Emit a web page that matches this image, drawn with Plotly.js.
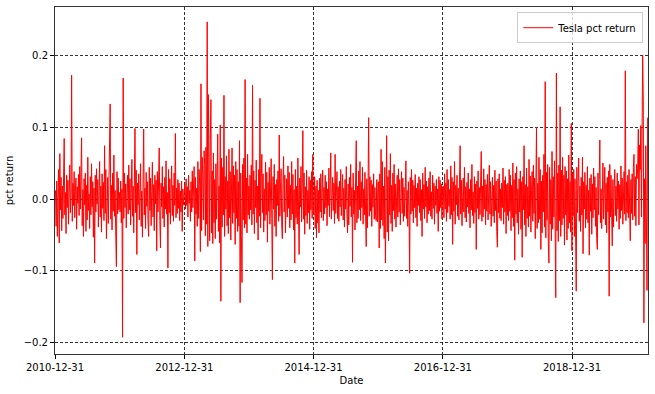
<!DOCTYPE html>
<html><head><meta charset="utf-8">
<script src="https://cdn.plot.ly/plotly-3.0.1.min.js"></script>
<style>html,body{margin:0;padding:0;background:#fff}#chart{width:655px;height:394px}</style>
</head><body><div id="chart"></div>
<script>
// Tesla daily pct return, values in units of 0.001 (per-mille), read/
const seriesName = 'Tesla pct return';
const r2011 = [12,-38,25,-52,8,41,-61,63,-15,30,-44,18,-27,55,84,-22,9,-48,33,-12,26,-35,14,47,-19,5,172,-31,22,-9,38,-26,11,29,-42,17,-6,34,-23,45,-14,21,85,-37,13,-52,28,-8,36,-45,19,-29,58,-16,7,-41,31,-22,49,-11,24,-53,15,-89,33,-18,42,-7,27,-39,11,52,-25,18,-46,35,-13,23,-30,74,-20,41,-55,16,30,-34,8,47,132,-28,19,-43,36,-17,61,-24,12,-50,-94,38,-21,29,-15,9];
const r2012 = [-18,25,-33,14,-192,168,-27,36,-12,21,-40,9,33,-21,47,-15,28,-36,12,55,-24,18,-47,31,98,-19,40,-77,22,-8,35,-29,16,49,-38,11,-53,27,97,-22,15,-41,37,-10,24,-33,-52,44,-16,29,-37,12,51,-25,20,-44,33,-7,26,-72,38,-18,14,71,-30,-68,22,-11,45,-27,17,-39,30,-14,53,-21,9,-96,41,-19,28,-35,12,46,-23,19,-31,36,-9,91,-26,15,-20,27,-13,22,-30,11,-18,25,-45,14,-8,19];
const r2013 = [21,-14,28,-9,17,-25,33,-6,12,-31,24,-18,39,-12,8,45,-86,30,-21,15,-38,52,-27,41,19,-73,160,-44,58,33,-29,67,48,-51,72,-35,246,-66,145,55,-58,81,138,-47,39,-62,64,-33,27,-55,49,-28,36,90,-45,18,-61,103,-142,57,-39,44,-22,144,-52,31,-14,60,-37,25,-48,69,-26,38,-57,17,71,-34,46,-19,33,-63,52,-27,41,-45,24,-38,81,-144,36,-51,-116,48,-29,57,-40,166,-35,29,-47,62,-22,18];
const r2014 = [-28,33,-15,47,-36,158,-21,39,-48,26,-12,54,-33,18,-57,41,-24,140,-40,29,62,-19,35,-46,14,-30,51,-22,37,-60,23,-17,44,-35,9,56,-27,-112,31,-14,48,-38,20,-52,27,-9,39,-31,89,-24,15,42,-36,-55,22,59,-18,33,-47,11,28,-25,46,-13,37,-40,19,-29,52,-21,34,-43,13,-89,41,-26,18,-35,57,-16,-77,29,-11,45,-32,21,95,-28,36,-49,17,-23,40,-34,12,-19,31,-42,26,-15,38,-27,62,-20];
const r2015 = [-22,31,-41,18,-54,26,-33,12,-47,29,-18,35,-26,9,40,-30,16,-21,33,-12,24,-37,14,-9,43,-25,19,64,-28,11,30,-16,22,-34,62,-20,13,38,-27,17,-31,25,-11,41,-23,8,34,-29,15,-39,27,-14,45,-19,-47,21,-36,30,-10,48,-25,16,-88,36,-21,12,-43,29,81,-33,18,-27,39,-15,52,-30,24,-12,44,-35,14,-22,37,-18,-66,28,-40,19,113,-24,31,-17,26,-38,20,-11,35,-28,16,-21,-30,27,-32,22];
const r2016 = [24,-68,35,-41,69,-29,52,-37,18,-55,44,-89,27,88,-46,31,-58,40,-22,63,-34,19,-45,36,-16,48,-28,21,-39,14,33,-25,42,-18,27,-36,11,38,-20,29,-31,16,-24,35,53,-27,12,-38,24,-15,-103,30,-21,41,-17,26,-33,19,-12,34,-26,15,-38,22,-9,31,-19,27,-30,13,-52,36,-14,20,-27,44,-11,25,-33,17,-21,29,-16,38,-24,10,-28,33,-13,22,-35,18,-9,27,-20,14,-45,31,-17,26,-12,21,-28,16];
const r2017 = [18,-26,35,-14,22,-31,41,-19,27,-10,13,-28,46,-22,30,-63,24,-17,52,-35,19,-8,33,-24,15,-29,38,74,-21,26,-37,12,29,-18,44,-26,17,-32,23,-11,36,-20,14,-40,27,-15,48,-23,10,-34,31,-19,21,-70,25,-13,39,-28,16,-22,29,66,-31,18,-25,42,-14,27,-36,20,-17,34,-29,13,47,-21,24,-38,11,30,-24,19,-33,40,-16,25,-45,-67,28,-19,35,-27,14,-30,22,-12,43,-35,26,-18,31,-48,20,-23];
const r2018 = [22,-30,41,-17,33,-44,19,-26,50,-38,27,-85,36,-21,45,-33,14,-49,28,-18,39,-42,24,-81,31,-15,74,-36,20,-52,43,-27,17,-39,55,-24,32,-46,12,38,-31,47,-20,29,-55,36,100,-41,22,-33,58,-28,41,-70,25,-47,33,-18,62,-39,163,-54,37,-29,48,-61,-89,44,-35,27,-58,66,-42,31,-25,53,-48,-137,175,-44,36,-59,47,-30,128,-52,40,-36,58,-27,33,-64,45,-22,39,-57,28,-41,61,-33,24,-46,105,-72];
const r2019 = [35,-24,41,-52,28,-37,-128,44,-19,26,57,-31,18,-45,30,-22,58,-76,24,-14,37,-40,19,-28,45,-33,12,-78,29,-17,34,-49,21,-26,43,-15,31,-38,16,-55,-70,36,-22,27,82,-33,14,-41,25,50,-28,19,44,-36,22,-47,30,-18,39,-135,48,-25,33,-20,-65,27,-39,15,41,-23,18,-31,36,-14,25,-42,20,-27,46,-16,29,-35,13,38,-21,178,-30,24,-19,33,-26,41,-15,-58,27,-20,35,-29,44,62,-24,31,-37,48];
const r2020 = [28,43,97,-36,75,41,102,-25,56,200,137,-172,28,-62,74,-45,-127,113];

const years = [2011,2012,2013,2014,2015,2016,2017,2018,2019,2020];
const yearly = [r2011,r2012,r2013,r2014,r2015,r2016,r2017,r2018,r2019,r2020];
const xTickVals = ['2010-12-31','2012-12-31','2014-12-31','2016-12-31','2018-12-31'];
const yTickVals = [-0.2,-0.1,0,0.1,0.2];

const dates = [], returns = [];
const dayMs = 86400000, stepDays = 365.25/104;
years.forEach((yr, k) => {
  yearly[k].forEach((v, i) => {
    const d = new Date(Date.UTC(yr,0,1) + (i+0.5)*stepDays*dayMs);
    dates.push(d.toISOString().slice(0,19).replace('T',' '));
    returns.push(v/1000);
  });
});

const trace = {x: dates, y: returns, type:'scatter', mode:'lines', name: seriesName,
  line:{color:'#ff0000', width:1}};

const axisCommon = {ticks:'outside', ticklen:4, tickwidth:1, tickcolor:'#000',
  showline:true, mirror:true, linecolor:'#333', linewidth:1,
  showgrid:true, gridcolor:'#000', gridwidth:0.8, griddash:'3px,2px', zeroline:false,
  tickfont:{size:10, color:'#000'}};

const layout = {
  width:655, height:394,
  margin:{l:55, r:7, t:7, b:40, pad:0},
  paper_bgcolor:'#fff', plot_bgcolor:'#fff',
  font:{family:'DejaVu Sans, sans-serif', size:10, color:'#000'},
  showlegend:true,
  legend:{x:0.992, y:0.985, xanchor:'right', yanchor:'top', bgcolor:'rgba(255,255,255,0.8)',
    bordercolor:'#cccccc', borderwidth:1, font:{size:10, color:'#000'}},
  xaxis:Object.assign({}, axisCommon, {type:'date', range:['2010-12-31','2020-03-04 12:00'],
    tickvals:xTickVals, tickformat:'%Y-%m-%d', title:{text:'Date', standoff:4, font:{size:10}}}),
  yaxis:Object.assign({}, axisCommon, {range:[-0.2153,0.2667], tickvals:yTickVals,
    tickformat:'.1f', title:{text:'pct return', standoff:8, font:{size:10}}})
};

Plotly.newPlot('chart', [trace], layout, {displayModeBar:false, staticPlot:true});
</script>
</body></html>
